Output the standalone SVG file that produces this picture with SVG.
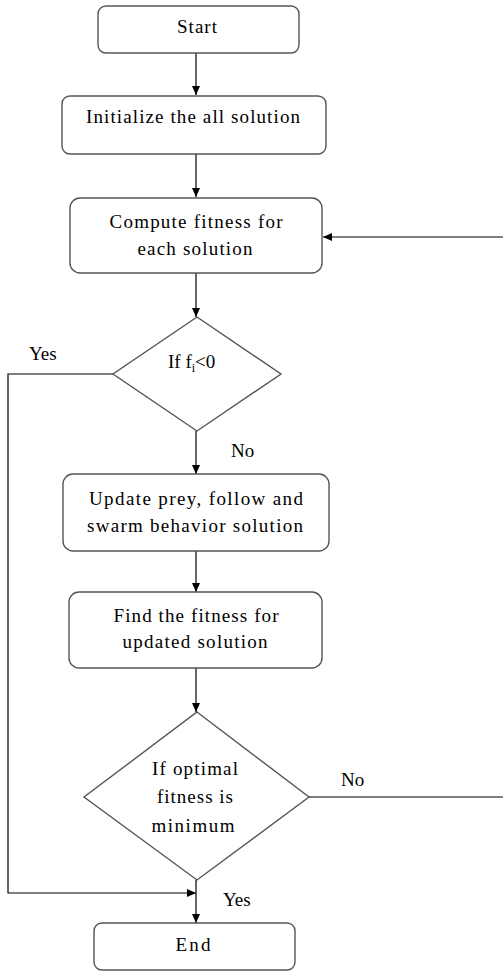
<svg xmlns="http://www.w3.org/2000/svg" width="503" height="972" viewBox="0 0 503 972" font-family="Liberation Serif, Times New Roman, serif" font-size="19">
<defs>
<marker id="arr" markerWidth="10" markerHeight="10" refX="9" refY="5" orient="auto" markerUnits="userSpaceOnUse">
<path d="M0,1 L9,5 L0,9 Z" fill="#000"/>
</marker>
<style>
.box{fill:#fff;stroke:#555;stroke-width:1.4}
.ln{fill:none;stroke:#000;stroke-width:1.2}
.c{text-anchor:middle}
</style>
</defs>
<rect width="503" height="972" fill="#fff"/>
<g id="connectors">
<line class="ln" x1="196" y1="53" x2="196" y2="95" marker-end="url(#arr)"/>
<line class="ln" x1="196" y1="154" x2="196" y2="197" marker-end="url(#arr)"/>
<line class="ln" x1="503" y1="237" x2="323" y2="237" marker-end="url(#arr)"/>
<line class="ln" x1="196" y1="273" x2="196" y2="317" marker-end="url(#arr)"/>
<polyline class="ln" points="113,374 8,374 8,893 196,893" marker-end="url(#arr)"/>
<line class="ln" x1="196" y1="431" x2="196" y2="474" marker-end="url(#arr)"/>
<line class="ln" x1="196" y1="551" x2="196" y2="592" marker-end="url(#arr)"/>
<line class="ln" x1="196" y1="668" x2="196" y2="712" marker-end="url(#arr)"/>
<line class="ln" x1="309" y1="797" x2="503" y2="797"/>
<line class="ln" x1="196" y1="880" x2="196" y2="923" marker-end="url(#arr)"/>
<text x="29" y="360">Yes</text>
<text x="231" y="457">No</text>
<text x="341" y="786">No</text>
<text x="223" y="906">Yes</text>
</g>
<g id="start">
<rect class="box" x="98" y="6" width="201" height="47" rx="8"/>
<text class="c" x="197" y="33" textLength="40">Start</text>
</g>
<g id="init">
<rect class="box" x="62" y="96" width="264" height="58" rx="8"/>
<text class="c" x="193" y="123" textLength="214">Initialize the all solution</text>
</g>
<g id="compute">
<rect class="box" x="70" y="198" width="252" height="75" rx="10"/>
<text class="c" x="196" y="228" textLength="173">Compute fitness for</text>
<text class="c" x="195" y="255" textLength="115">each solution</text>
</g>
<g id="decision1">
<polygon class="box" points="197,317 281,374 197,431 113,374"/>
<text x="168" y="368">If f<tspan font-size="12" dy="4">i</tspan><tspan dy="-4">&lt;0</tspan></text>
</g>
<g id="update">
<rect class="box" x="63" y="474" width="266" height="77" rx="10"/>
<text class="c" x="196" y="505" textLength="214">Update prey, follow and</text>
<text class="c" x="195" y="532" textLength="216">swarm behavior solution</text>
</g>
<g id="find">
<rect class="box" x="69" y="592" width="253" height="76" rx="10"/>
<text class="c" x="196" y="622" textLength="165">Find the fitness for</text>
<text class="c" x="195" y="648" textLength="145">updated solution</text>
</g>
<g id="decision2">
<polygon class="box" points="197,712 309,797 197,880 84,797"/>
<text class="c" x="195" y="775" textLength="86">If optimal</text>
<text class="c" x="195" y="803" textLength="76">fitness is</text>
<text class="c" x="193" y="832" textLength="83">minimum</text>
</g>
<g id="end">
<rect class="box" x="94" y="923" width="201" height="47" rx="8"/>
<text class="c" x="193" y="951" textLength="35">End</text>
</g>
</svg>
